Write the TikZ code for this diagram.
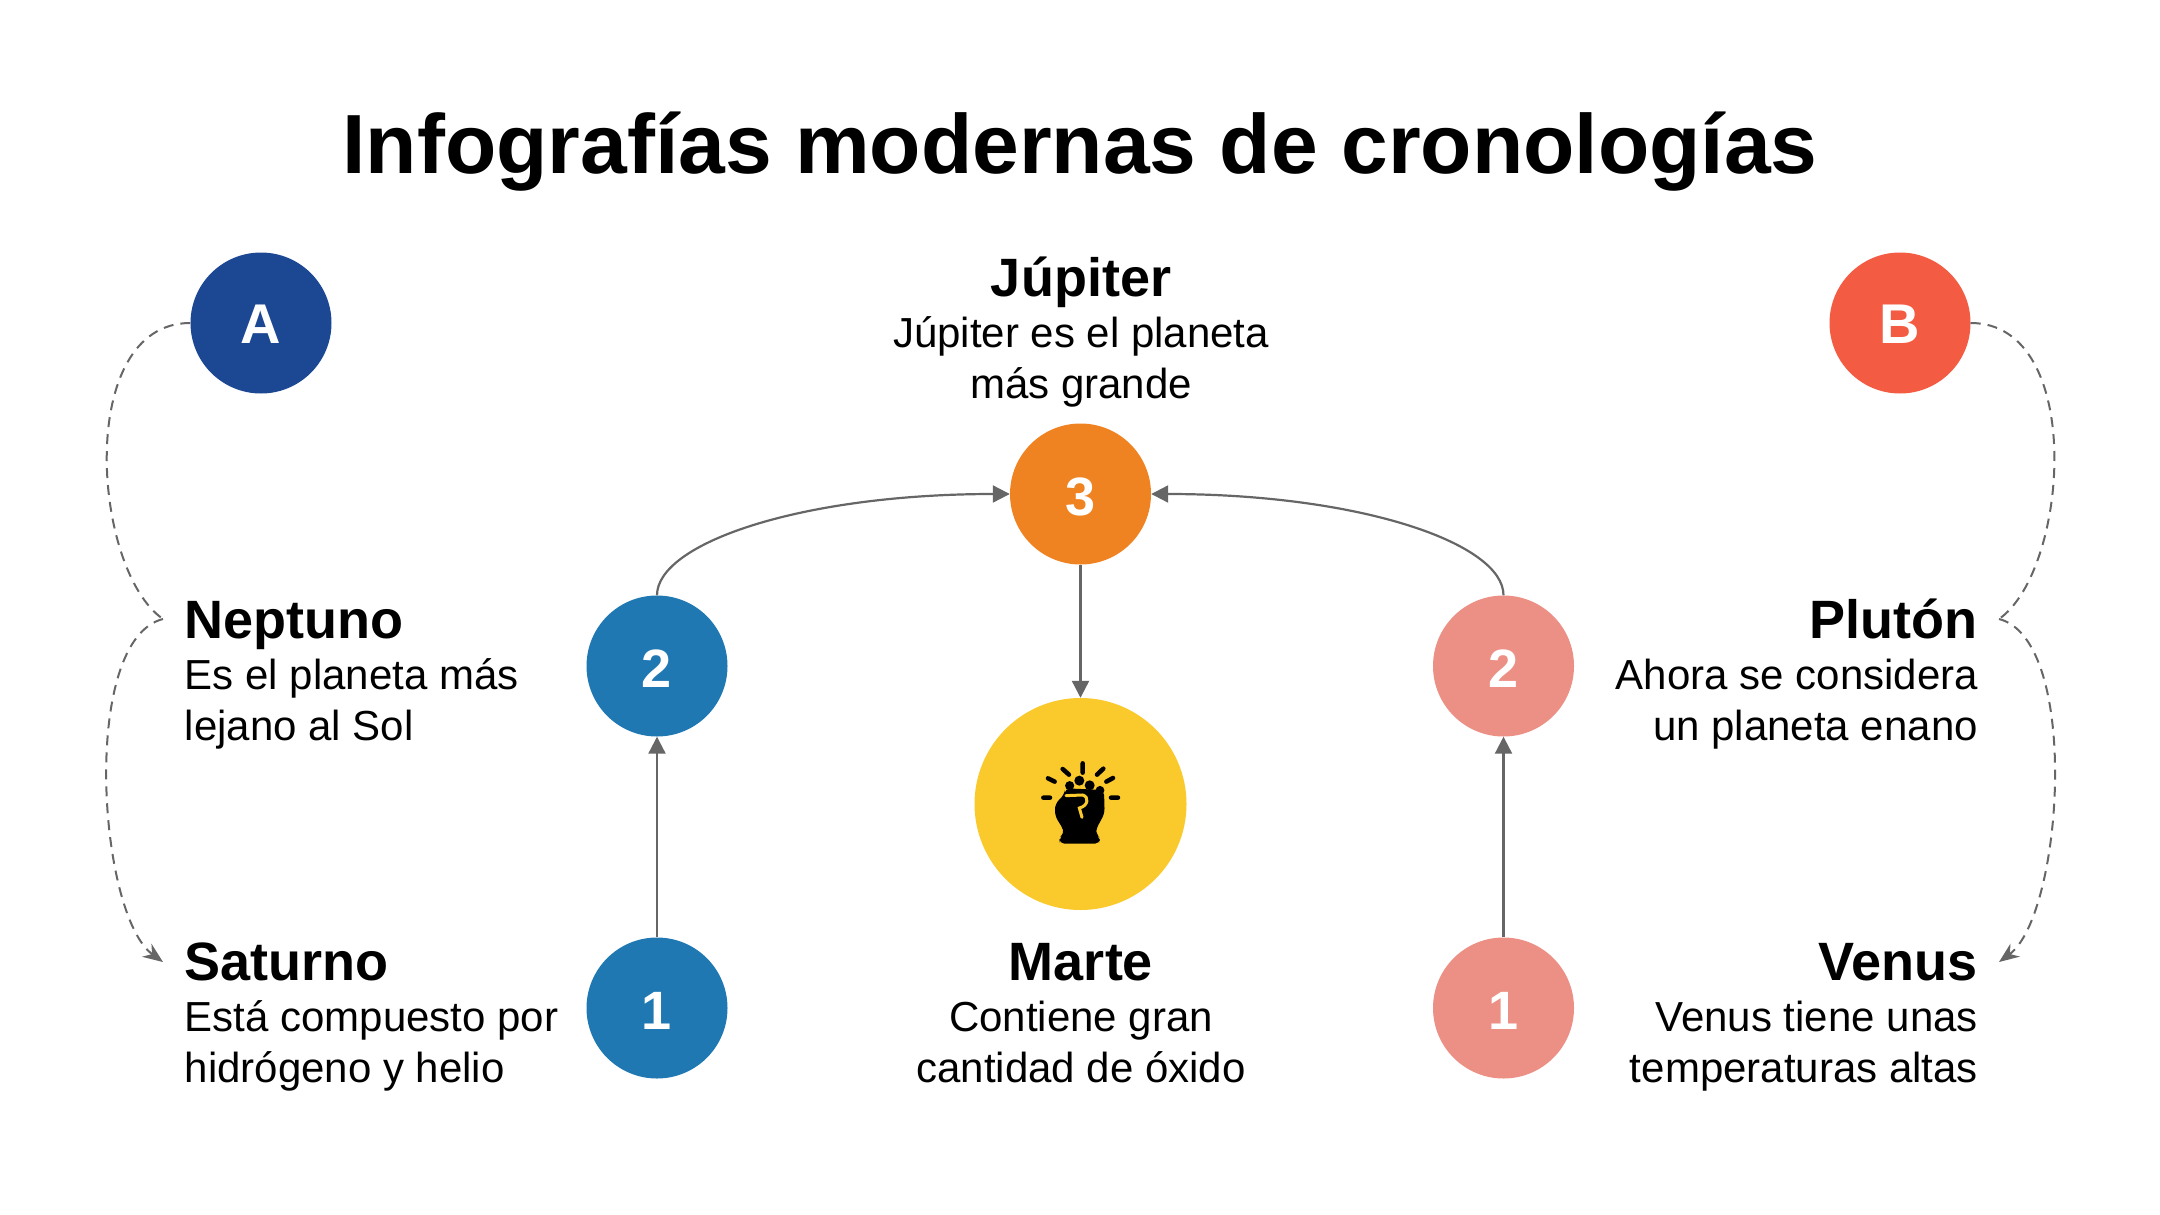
\documentclass[tikz,border=0pt]{standalone}
\usepackage{fontspec}
\setmainfont{Liberation Sans}
\usetikzlibrary{arrows.meta, positioning}
\definecolor{deepblue}{HTML}{1C4793}
\definecolor{redorange}{HTML}{F35C43}
\definecolor{midblue}{HTML}{2078B3}
\definecolor{salmon}{HTML}{EC8F84}
\definecolor{orangedot}{HTML}{F08321}
\definecolor{sunyellow}{HTML}{FAC92C}
\definecolor{linegray}{HTML}{666666}
\newcommand{\planetname}[1]{{\fontsize{54}{51}\selectfont\bfseries #1}}
\tikzset{
  numdot/.style={circle, fill=#1, minimum size=141pt, inner sep=0pt, text=white,
        text height=43pt, text depth=0pt, font=\fontsize{54}{54}\selectfont\bfseries},
  letterdot/.style={numdot=#1, text height=40pt, font=\fontsize{56}{56}\selectfont\bfseries},
  leftinfo/.style={anchor=base west, align=left, inner sep=0pt,
        font=\fontsize{42}{51}\selectfont},
  rightinfo/.style={anchor=base east, align=right, inner sep=0pt,
        font=\fontsize{42}{51}\selectfont},
  midinfo/.style={anchor=base, align=center, inner sep=0pt,
        font=\fontsize{42}{51}\selectfont},
  solidline/.style={->, linegray, line width=2.2pt},
  dashline/.style={linegray, line width=2pt, dash pattern=on 10pt off 7pt}
}

\begin{document}
\begin{tikzpicture}[x=1pt, y=-1pt, >={Triangle[length=17pt, width=17pt]}]
  \useasboundingbox (0,0) rectangle (2160,1215);

  % Title
  \node[anchor=base, inner sep=0pt, font=\fontsize{84}{84}\selectfont\bfseries] (title)
    at (1080,173.5) {Infografías modernas de cronologías};

  % Letter nodes
  \node[letterdot=deepblue] (letterA) at (261,323) {A};
  \node[letterdot=redorange] (letterB) at (1900,323) {B};

  % Number nodes
  \node[numdot=orangedot] (jup3) at (1080.5,494) {3};
  \node[numdot=midblue] (left2) at (657,666) {2};
  \node[numdot=midblue] (left1) at (657,1008) {1};
  \node[numdot=salmon] (right2) at (1503.5,666) {2};
  \node[numdot=salmon] (right1) at (1503.5,1008) {1};
  \node[circle, fill=sunyellow, minimum size=212pt, inner sep=0pt] (fist) at (1080.5,804) {};

  % Text nodes
  \node[midinfo] (jupiter) at (1081,398)
    {\planetname{Júpiter}\\Júpiter es el planeta\\más grande};
  \node[leftinfo] (neptuno) at (184.5,740)
    {\planetname{Neptuno}\\Es el planeta más\\lejano al Sol};
  \node[leftinfo] (saturno) at (184.5,1082)
    {\planetname{Saturno}\\Está compuesto por\\hidrógeno y helio};
  \node[midinfo] (marte) at (1081,1082)
    {\planetname{Marte}\\Contiene gran\\cantidad de óxido};
  \node[rightinfo] (pluton) at (1978,740)
    {\planetname{Plutón}\\Ahora se considera\\un planeta enano};
  \node[rightinfo] (venus) at (1978,1082)
    {\planetname{Venus}\\Venus tiene unas\\temperaturas altas};

  % Fist icon
  \begin{scope}[shift={(960,680)}, x=0.3333pt, y=-0.3333pt]
    \fill[black, rounded corners=5pt] (298,491) -- (298,474) -- (312,462) -- (310,448)
      -- (285,408) -- (285,372) -- (312,345) -- (316,325) -- (432,330) -- (434,400)
      -- (408,448) -- (408,462) -- (420,474) -- (420,491) -- cycle;
    \fill[black] (329,317) circle (4.6pt) (358,302) circle (5pt)
      (389,316) circle (5pt) (420,331) circle (4.4pt);
    \draw[sunyellow, line width=3pt, line cap=round] (318,347) -- (368,345)
      .. controls (388,350) and (385,378) .. (358,384) -- (366,412);
    \draw[black, line width=4.5pt, line cap=round]
      (368,250) -- (368,278) (308,267) -- (327,284) (264,295) -- (284,305)
      (250,353) -- (270,353) (430,266) -- (411,284) (459,294) -- (439,305)
      (453,353) -- (474,353);
  \end{scope}

  % Solid arrows
  \draw[solidline] (left1) -- (left2);
  \draw[solidline] (right1) -- (right2);
  \draw[solidline] (jup3) -- (fist);
  \draw[solidline] (left2.north) .. controls +(0,-52) and +(-209,0) .. (jup3.west);
  \draw[solidline] (right2.north) .. controls +(0,-52) and +(209,0) .. (jup3.east);

  % Dashed curves
  \coordinate (nepjoin) at (163,619);
  \coordinate (satend) at (163,962);
  \coordinate (plujoin) at (1999,619);
  \coordinate (venend) at (1999,962);
  \draw[dashline] (letterA.west) .. controls (75,323) and (92,570) .. (nepjoin);
  \draw[dashline, -{Stealth[length=20pt, width=16pt]}] (nepjoin)
    .. controls (80,640) and (98,915) .. (satend);
  \draw[dashline] (letterB.east) .. controls (2086,323) and (2069,570) .. (plujoin);
  \draw[dashline, -{Stealth[length=20pt, width=16pt]}] (plujoin)
    .. controls (2081,640) and (2063,915) .. (venend);
\end{tikzpicture}
\end{document}
